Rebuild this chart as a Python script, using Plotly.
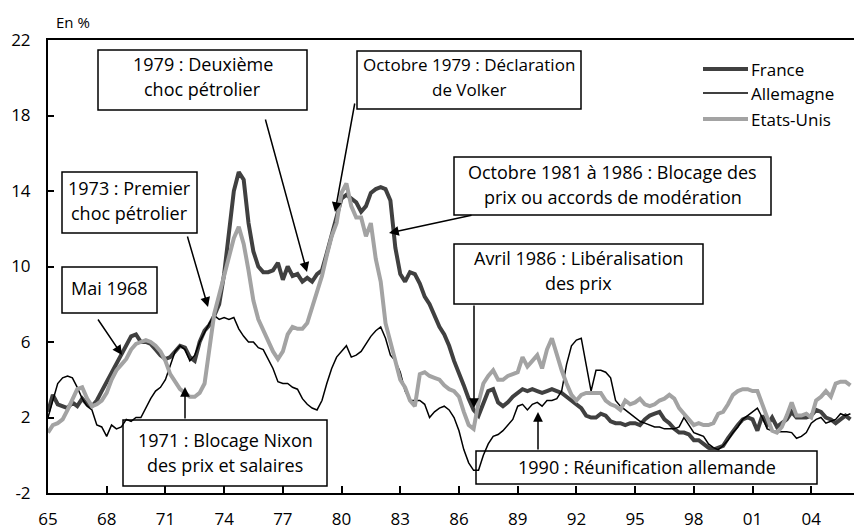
import pandas as pd
import plotly.graph_objects as go

# Quarterly year-over-year inflation (%), 1965Q1 .. 2006Q1
france = [
    2.3, 3.2, 2.7, 2.6,   2.5, 2.8, 2.6, 3.0,   2.7, 2.6, 2.9, 3.4,   3.9, 4.3, 4.8, 5.4,
    5.9, 6.3, 6.4, 6.0,   6.0, 5.9, 5.6, 5.3,   5.1, 5.2, 5.5, 5.8,   5.7, 5.2, 5.0, 6.0,
    6.6, 6.9, 7.4, 8.0,   9.6, 12.0, 14.0, 15.0, 14.6, 12.3, 10.8, 10.0, 9.7, 9.7, 9.8, 10.2,
    9.3, 10.0, 9.5, 9.6,  9.2, 9.4, 9.2, 9.6,   9.8, 10.7, 11.6, 12.5, 13.6, 13.8, 13.6, 13.4,
    12.9, 13.2, 13.9, 14.1, 14.2, 14.1, 13.5, 11.0, 9.6, 9.2, 9.7, 9.6, 9.1, 8.4, 8.0, 7.4,
    6.8, 6.4, 5.8, 5.0,   4.4, 3.7, 3.0, 2.4,   2.1, 2.8, 3.4, 3.5,   2.8, 2.6, 2.8, 3.1,
    3.3, 3.5, 3.4, 3.5,   3.4, 3.3, 3.4, 3.5,   3.4, 3.3, 3.1, 2.9,   2.7, 2.5, 2.1, 2.0,
    2.0, 2.2, 2.1, 1.8,   1.7, 1.7, 1.6, 1.7,   1.7, 1.6, 1.9, 2.1,   2.2, 2.3, 1.9, 1.7,
    1.4, 1.2, 1.2, 1.1,   0.8, 0.8, 0.6, 0.4,   0.3, 0.4, 0.5, 0.9,   1.3, 1.6, 1.9, 2.0,
    1.9, 1.3, 2.1, 1.6,   2.0, 1.5, 1.7, 1.9,   2.3, 2.0, 2.0, 2.0,   2.1, 2.4, 2.3, 2.0,
    1.9, 1.7, 1.9, 2.1,   1.9,
]
allemagne = [
    2.0, 2.9, 3.8, 4.1,   4.2, 4.1, 3.6, 3.0,   2.6, 2.4, 1.6, 1.5,   1.0, 1.6, 1.4, 1.5,
    1.9, 1.8, 2.0, 2.0,   2.5, 3.0, 3.4, 3.6,   4.0, 4.8, 5.5, 5.8,   5.6, 5.0, 5.3, 6.0,
    6.5, 7.0, 7.4, 7.2,   7.3, 7.2, 7.3, 6.7,   6.3, 6.0, 6.0, 5.7,   5.6, 5.1, 4.6, 3.9,
    3.8, 3.8, 3.6, 3.5,   3.0, 2.7, 2.5, 2.4,   2.9, 3.8, 4.6, 5.2,   5.5, 5.8, 5.2, 5.3,
    5.5, 5.9, 6.3, 6.6,   6.8, 6.2, 5.3, 5.0,   4.4, 3.4, 2.9, 2.9,   2.9, 2.7, 2.0, 2.3,
    2.5, 2.6, 2.4, 2.0,   1.3, 0.3, -0.4, -0.8, -0.8, 0.0, 0.6, 1.0,  1.1, 1.3, 1.6, 1.9,
    2.6, 2.7, 2.4, 2.7,   2.8, 2.6, 2.9, 2.9,   3.0, 3.4, 4.8, 5.8,   6.1, 6.2, 4.8, 3.4,
    4.5, 4.5, 4.4, 4.1,   2.9, 2.6, 2.4, 2.2,   2.0, 1.8, 1.7, 1.6,   1.5, 1.5, 1.4, 1.4,
    1.4, 1.5, 2.0, 1.6,   1.2, 1.1, 1.0, 0.6,   0.4, 0.3, 0.5, 0.8,   1.2, 1.5, 1.9, 2.1,
    2.3, 2.5, 2.0, 1.4,   1.3, 1.25, 1.25, 1.25, 1.2, 0.9, 1.0, 1.2,  1.7, 1.9, 2.0, 1.7,
    1.8, 1.9, 2.2, 2.1,   2.2,
]
etats_unis = [
    1.2, 1.6, 1.7, 1.9,   2.4, 3.0, 3.5, 3.6,   3.0, 2.6, 2.7, 2.9,   3.3, 4.0, 4.5, 4.8,
    5.1, 5.6, 5.9, 6.0,   6.1, 6.0, 5.8, 5.5,   5.0, 4.3, 3.9, 3.5,   3.3, 3.1, 3.1, 3.3,
    3.8, 5.5, 7.5, 8.5,   9.5, 10.5, 11.5, 12.1, 11.2, 9.8, 8.2, 7.2,  6.6, 6.0, 5.5, 5.1,
    5.5, 6.4, 6.8, 6.7,   6.7, 7.0, 7.8, 8.6,   9.5, 10.6, 11.6, 12.3, 13.9, 14.4, 13.2, 12.6,
    12.6, 11.6, 12.3, 10.4, 9.2, 7.0, 6.0, 5.0, 4.0, 3.6, 2.9, 2.6,   4.3, 4.4, 4.2, 4.1,
    4.0, 3.7, 3.5, 3.4,   3.1, 2.3, 1.6, 1.4,   2.8, 3.8, 4.2, 4.5,   4.0, 4.0, 4.2, 4.3,
    4.4, 5.2, 4.7, 5.0,   5.3, 4.6, 5.6, 6.2,   5.3, 4.5, 3.8, 3.2,   2.9, 3.2, 3.3, 3.3,
    3.3, 3.3, 2.9, 2.7,   2.6, 2.4, 2.9, 2.7,   2.8, 3.0, 2.7, 2.6,   2.7, 2.9, 3.0, 3.2,
    3.0, 2.5, 2.2, 1.9,   1.6, 1.7, 1.6, 1.6,   1.7, 2.2, 2.3, 2.7,   3.2, 3.4, 3.5, 3.5,
    3.4, 3.4, 2.7, 2.0,   1.3, 1.2, 1.5, 2.1,   2.8, 2.1, 2.1, 2.2,   2.0, 2.9, 3.1, 3.4,
    3.1, 3.8, 3.9, 3.9,   3.7,
]
dates = pd.date_range("1965-01-01", periods=len(france), freq="QS")

y_tickvals = [-2, 2, 6, 10, 14, 18, 22]
y_ticktext = ["-2", "2", "6", "10", "14", "18", "22"]

series_names = ["France", "Allemagne", "Etats-Unis"]
series_colors = ["#404040", "#000000", "#a3a3a3"]
series_widths = [4, 1.5, 4]

W, H = 854, 532
L, R, T, B = 48, 0, 40, 39
PW, PH = W - L - R, H - T - B


def px(x):
    return (x - L) / PW


def py(y):
    return (H - B - y) / PH


FONT = "Open Sans"

fig = go.Figure()
for name, vals, col, wid in zip(series_names, [france, allemagne, etats_unis],
                                series_colors, series_widths):
    fig.add_trace(go.Scatter(x=dates, y=vals, name=name, mode="lines",
                             line=dict(color=col, width=wid), showlegend=False))

shapes = []
annotations = []

# text boxes: (x0, y0, x1, y1, font size, [(text, y_center), ...])
boxes = [
    (98, 50, 307, 110, 18, [("1979 : Deuxième", 64), ("choc pétrolier", 89)]),
    (357, 51, 581, 109, 17, [("Octobre 1979 : Déclaration", 64), ("de Volker", 89)]),
    (62, 172, 197, 233, 18, [("1973 : Premier", 188), ("choc pétrolier", 213)]),
    (62, 267, 157, 313, 18, [("Mai 1968", 288)]),
    (454, 157, 771, 215, 18, [("Octobre 1981 à 1986 : Blocage des", 172), ("prix ou accords de modération", 197)]),
    (454, 244, 703, 304, 18, [("Avril 1986 : Libéralisation", 258), ("des prix", 283)]),
    (123, 420, 327, 486, 18, [("1971 : Blocage Nixon", 440), ("des prix et salaires", 465)]),
    (476, 451, 817, 484, 18, [("1990 : Réunification allemande", 467)]),
]
for x0, y0, x1, y1, fs, lines in boxes:
    shapes.append(dict(type="rect", xref="paper", yref="paper",
                       x0=px(x0), x1=px(x1), y0=py(y1), y1=py(y0),
                       line=dict(color="black", width=1.5), fillcolor="white",
                       layer="below"))
    for txt, yc in lines:
        annotations.append(dict(text=txt, xref="paper", yref="paper",
                                x=px((x0 + x1) / 2), y=py(yc), showarrow=False,
                                xanchor="center", yanchor="middle",
                                font=dict(family=FONT, size=fs, color="black")))

# arrows: (tail_x, tail_y, head_x, head_y) in pixels
arrows = [
    (265, 118, 307, 272),
    (355, 102, 335, 212),
    (187, 235, 208, 307),
    (97, 318, 122, 355),
    (185, 420, 185, 387),
    (473, 215, 389, 233),
    (474, 304, 474, 408),
    (538, 451, 538, 412),
]
for tx, ty, hx, hy in arrows:
    annotations.append(dict(text="", xref="paper", yref="paper",
                            x=px(hx), y=py(hy), axref="pixel", ayref="pixel",
                            ax=tx - hx, ay=ty - hy, showarrow=True,
                            arrowhead=2, arrowsize=1.3, arrowwidth=1.5,
                            arrowcolor="black", standoff=0, startstandoff=0))

# legend drawn manually
leg_y = [69, 93, 119]
for name, col, wid, yy in zip(series_names, series_colors, series_widths, leg_y):
    shapes.append(dict(type="line", xref="paper", yref="paper",
                       x0=px(703), x1=px(748), y0=py(yy), y1=py(yy),
                       line=dict(color=col, width=wid), layer="above"))
    annotations.append(dict(text=name, xref="paper", yref="paper",
                            x=px(749), y=py(yy), showarrow=False,
                            xanchor="left", yanchor="middle",
                            font=dict(family=FONT, size=17, color="black")))

annotations.append(dict(text="En %", xref="paper", yref="paper",
                        x=px(54), y=py(22), showarrow=False,
                        xanchor="left", yanchor="middle",
                        font=dict(family=FONT, size=15, color="black")))

fig.update_layout(
    width=W, height=H,
    margin=dict(l=L, r=R, t=T, b=B, autoexpand=False),
    paper_bgcolor="white", plot_bgcolor="white",
    font=dict(family=FONT, size=17, color="black"),
    shapes=shapes, annotations=annotations,
    showlegend=False,
)
fig.update_xaxes(
    type="date", range=["1965-01-01", "2006-03-09"],
    tickmode="linear", tick0="1965-01-01", dtick="M36", tickformat="%y",
    ticks="inside", ticklen=7, tickwidth=1.5, tickcolor="black",
    showline=True, linecolor="black", linewidth=2, mirror=True,
    showgrid=False, zeroline=False, ticklabelstandoff=10,
    tickfont=dict(family=FONT, size=17),
)
fig.update_yaxes(
    range=[-2, 22], tickmode="array", tickvals=y_tickvals, ticktext=y_ticktext,
    ticks="inside", ticklen=6, tickwidth=1.5, tickcolor="black",
    showline=True, linecolor="black", linewidth=2,
    showgrid=False, zeroline=False, ticklabelstandoff=12,
    tickfont=dict(family=FONT, size=17),
)

fig.write_html("out.html", config={"displayModeBar": False},
               post_script="document.body.style.margin='0';document.body.style.overflow='hidden';")
